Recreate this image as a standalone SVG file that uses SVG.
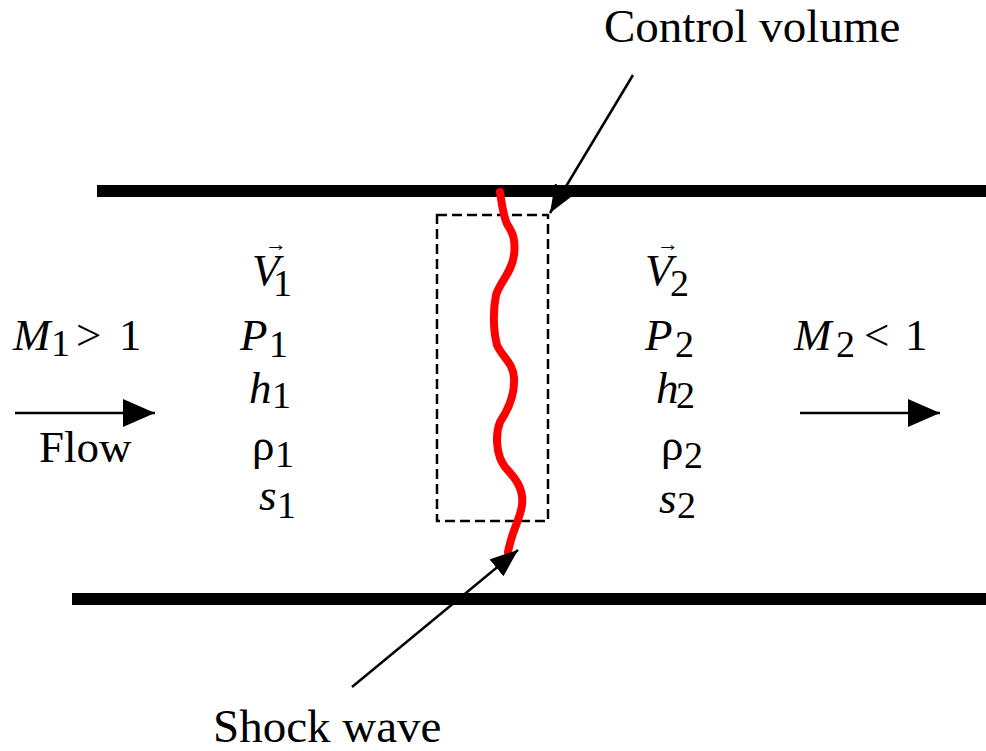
<svg xmlns="http://www.w3.org/2000/svg" width="986" height="751" viewBox="0 0 986 751">
<style>
text{font-family:'Liberation Serif','DejaVu Serif',serif;fill:#000}
.big{font-size:45px}
.lbl{font-size:47px}
.sub{font-size:38px}
.it{font-style:italic}
.vec{font-size:22px;font-style:normal}
.wall{stroke:#000;stroke-width:12}
.thin{stroke:#000;fill:none}
</style>
<defs>
<marker id="flowHead" markerUnits="userSpaceOnUse" markerWidth="32" markerHeight="28" refX="32" refY="14" orient="auto">
<path d="M0,0 L32,14 L0,28 Z" fill="#000"/>
</marker>
<marker id="calloutHead" markerUnits="userSpaceOnUse" markerWidth="28" markerHeight="22" refX="28" refY="11" orient="auto">
<path d="M0,0 L28,11 L0,22 Z" fill="#000"/>
</marker>
</defs>
<rect width="986" height="751" fill="#fff"/>
<g id="walls">
<line class="wall" x1="97" y1="191" x2="986" y2="191"/>
<line class="wall" x1="72" y1="599" x2="986" y2="599"/>
</g>
<g id="control-volume">
<rect x="437" y="215" width="111" height="306" fill="none" stroke="#000" stroke-width="2.5" stroke-dasharray="10 5"/>
</g>
<g id="shock-wave">
<path d="M500,192 C502,205 503,215 507,224 C512,232 516,238 514,255 C512,272 500,282 496,295 C493,310 493,330 497,345 C502,357 513,362 514,378 C515,395 508,410 500,422 C495,435 496,455 505,467 C515,478 524,488 522,505 C520,520 512,530 508,552" fill="none" stroke="#ff0000" stroke-width="8" stroke-linejoin="round" stroke-linecap="round"/>
</g>
<g id="connectors">
<line class="thin" stroke-width="2.5" x1="15" y1="413" x2="155" y2="413" marker-end="url(#flowHead)"/>
<line class="thin" stroke-width="2.5" x1="800" y1="413" x2="940" y2="413" marker-end="url(#flowHead)"/>
<line class="thin" stroke-width="2.5" x1="633" y1="75" x2="550" y2="213" marker-end="url(#calloutHead)"/>
<line class="thin" stroke-width="2.5" x1="352" y1="687" x2="518" y2="550" marker-end="url(#calloutHead)"/>
</g>
<g id="label-control-volume">
<text class="lbl" x="604" y="42">Control volume</text>
</g>
<g id="label-shock-wave">
<text class="lbl" x="213" y="742">Shock wave</text>
</g>
<g id="label-flow">
<text class="big" x="39" y="462">Flow</text>
</g>
<g id="label-m1">
<text class="big" y="350"><tspan class="it" x="13">M</tspan><tspan class="sub" x="51" y="356">1</tspan><tspan x="76" y="350">&gt;</tspan><tspan x="119">1</tspan></text>
</g>
<g id="label-m2">
<text class="big" y="350"><tspan class="it" x="794">M</tspan><tspan class="sub" x="836" y="357">2</tspan><tspan x="864" y="350">&lt;</tspan><tspan x="905">1</tspan></text>
</g>
<g id="state-1">
<text class="big"><tspan class="vec" x="265" y="251">→</tspan><tspan class="it" x="252" y="285">V</tspan><tspan class="sub" x="273" y="296">1</tspan></text>
<text class="big" y="350"><tspan class="it" x="240">P</tspan><tspan class="sub" x="269" y="357">1</tspan></text>
<text class="big" y="403"><tspan class="it" x="249">h</tspan><tspan class="sub" x="272" y="408">1</tspan></text>
<text class="big" y="460"><tspan x="252">ρ</tspan><tspan class="sub" x="275" y="467">1</tspan></text>
<text class="big" y="510"><tspan class="it" x="259">s</tspan><tspan class="sub" x="277" y="518">1</tspan></text>
</g>
<g id="state-2">
<text class="big"><tspan class="vec" x="657" y="251">→</tspan><tspan class="it" x="645" y="285">V</tspan><tspan class="sub" x="670" y="296">2</tspan></text>
<text class="big" y="350"><tspan class="it" x="645">P</tspan><tspan class="sub" x="675" y="357">2</tspan></text>
<text class="big" y="403"><tspan class="it" x="656">h</tspan><tspan class="sub" x="676" y="408">2</tspan></text>
<text class="big" y="460"><tspan x="661">ρ</tspan><tspan class="sub" x="684" y="468">2</tspan></text>
<text class="big" y="513"><tspan class="it" x="659">s</tspan><tspan class="sub" x="677" y="518">2</tspan></text>
</g>
</svg>
